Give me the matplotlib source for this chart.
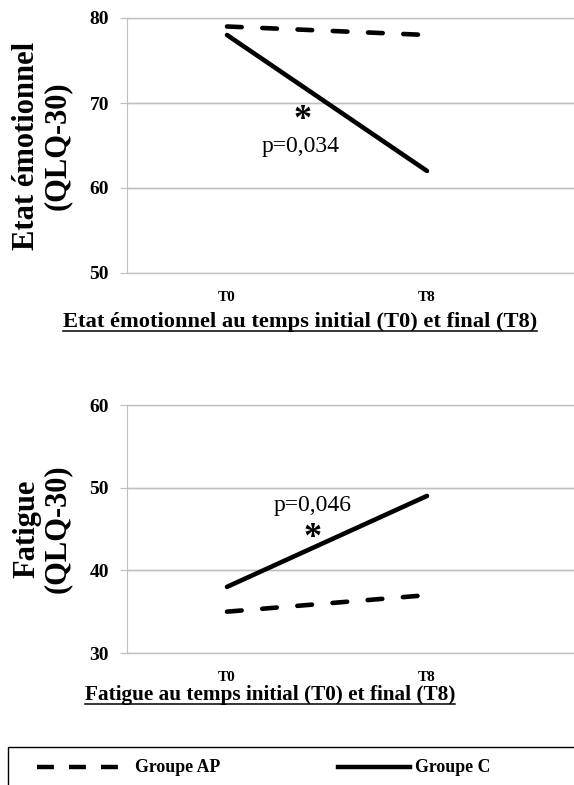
import matplotlib
matplotlib.use("Agg")
import matplotlib.pyplot as plt
from matplotlib.lines import Line2D
from matplotlib.patches import Rectangle

# ---- data ----
times = ["T0", "T8"]
emo_ap = [79, 78]
emo_c = [78, 62]
fat_ap = [35, 37]
fat_c = [38, 49]
emo_ticks = [50, 60, 70, 80]
fat_ticks = [30, 40, 50, 60]

plt.rcParams['font.family'] = ['Liberation Serif', 'DejaVu Serif']

W, H = 574, 785
fig = plt.figure(figsize=(W / 100, H / 100), dpi=100)

GRID = "#bfbfbf"
LW = 3.3
DASH = (3.2, 4.5)


def px_axes(left, top, right, bottom):
    return fig.add_axes([left / W, 1 - bottom / H, (right - left) / W, (bottom - top) / H])


def style(ax, ticks):
    ax.set_ylim(ticks[0], ticks[-1])
    ax.set_xlim(-0.5, 1.735)
    ax.set_yticks(ticks)
    ax.set_yticklabels([str(t) for t in ticks], fontsize=14, fontweight='bold')
    ax.set_xticks([0, 1])
    ax.set_xticklabels(times, fontsize=11, fontweight='bold')
    ax.tick_params(axis='x', length=0, pad=13)
    ax.tick_params(axis='y', length=5, color=GRID, pad=8)
    for s in ['top', 'right', 'bottom']:
        ax.spines[s].set_visible(False)
    ax.spines['left'].set_color(GRID)
    ax.grid(axis='y', color=GRID, lw=1)
    ax.set_axisbelow(True)
    for t in ticks:
        ax.axhline(t, color=GRID, lw=1, zorder=0, clip_on=False)


x = list(range(len(times)))

# ---- top chart ----
ax1 = px_axes(127, 18, 574, 273)
style(ax1, emo_ticks)
ax1.plot(x, emo_ap, color='black', lw=LW, dashes=DASH, dash_capstyle='round')
ax1.plot(x, emo_c, color='black', lw=LW, solid_capstyle='round')
ax1.text(0.38, 67.9, "*", fontsize=26, fontweight='bold', ha='center', va='center')
ax1.text(0.37, 64.9, "p=0,034", fontsize=17, ha='center', va='center')
ax1.set_ylabel("Etat émotionnel\n(QLQ-30)", fontsize=22, fontweight='bold',
               linespacing=1.05)

# ---- bottom chart ----
ax2 = px_axes(127, 405, 574, 653)
style(ax2, fat_ticks)
ax2.plot(x, fat_ap, color='black', lw=LW, dashes=DASH, dash_capstyle='round')
ax2.plot(x, fat_c, color='black', lw=LW, solid_capstyle='round')
ax2.text(0.43, 43.9, "*", fontsize=26, fontweight='bold', ha='center', va='center')
ax2.text(0.43, 47.9, "p=0,046", fontsize=17, ha='center', va='center')
ax2.set_ylabel("Fatigue\n(QLQ-30)", fontsize=22, fontweight='bold',
               linespacing=1.05)

# position y labels (center x ~ 42 px)
ax1.yaxis.set_label_coords((42 - 127) / (574 - 127), 0.5)
ax2.yaxis.set_label_coords((42 - 127) / (574 - 127), 0.5)
ax1.yaxis.label.set_va('center')
ax2.yaxis.label.set_va('center')

# ---- underlined axis titles ----
def underlined(xc, yc, s, fs):
    t = fig.text(xc / W, 1 - yc / H, s, fontsize=fs, fontweight='bold', ha='center', va='center')
    fig.canvas.draw()
    bb = t.get_window_extent()
    yline = bb.y0 + 1.5
    fig.add_artist(Line2D([bb.x0 / W, bb.x1 / W], [yline / H, yline / H], color='black', lw=1.1))

underlined(300, 322, "Etat émotionnel au temps initial (T0) et final (T8)", 16.2)
underlined(270, 695, "Fatigue au temps initial (T0) et final (T8)", 15.3)

# ---- legend box ----
fig.add_artist(Rectangle((8 / W, -0.05), 1.0, (785 - 747) / H + 0.05, transform=fig.transFigure,
                         fill=False, edgecolor='black', lw=1.0))
yl = 1 - 767 / H
fig.add_artist(Line2D([37 / W, 118 / W], [yl, yl], color='black', lw=3.2,
                      dashes=(3.8, 3.4)))
fig.add_artist(Line2D([338 / W, 410 / W], [yl, yl], color='black', lw=3.2))
fig.text(135 / W, yl, "Groupe AP", fontsize=12.8, fontweight='bold', va='center', ha='left')
fig.text(415 / W, yl, "Groupe C", fontsize=12.8, fontweight='bold', va='center', ha='left')

fig.savefig("out.png", dpi=100)
